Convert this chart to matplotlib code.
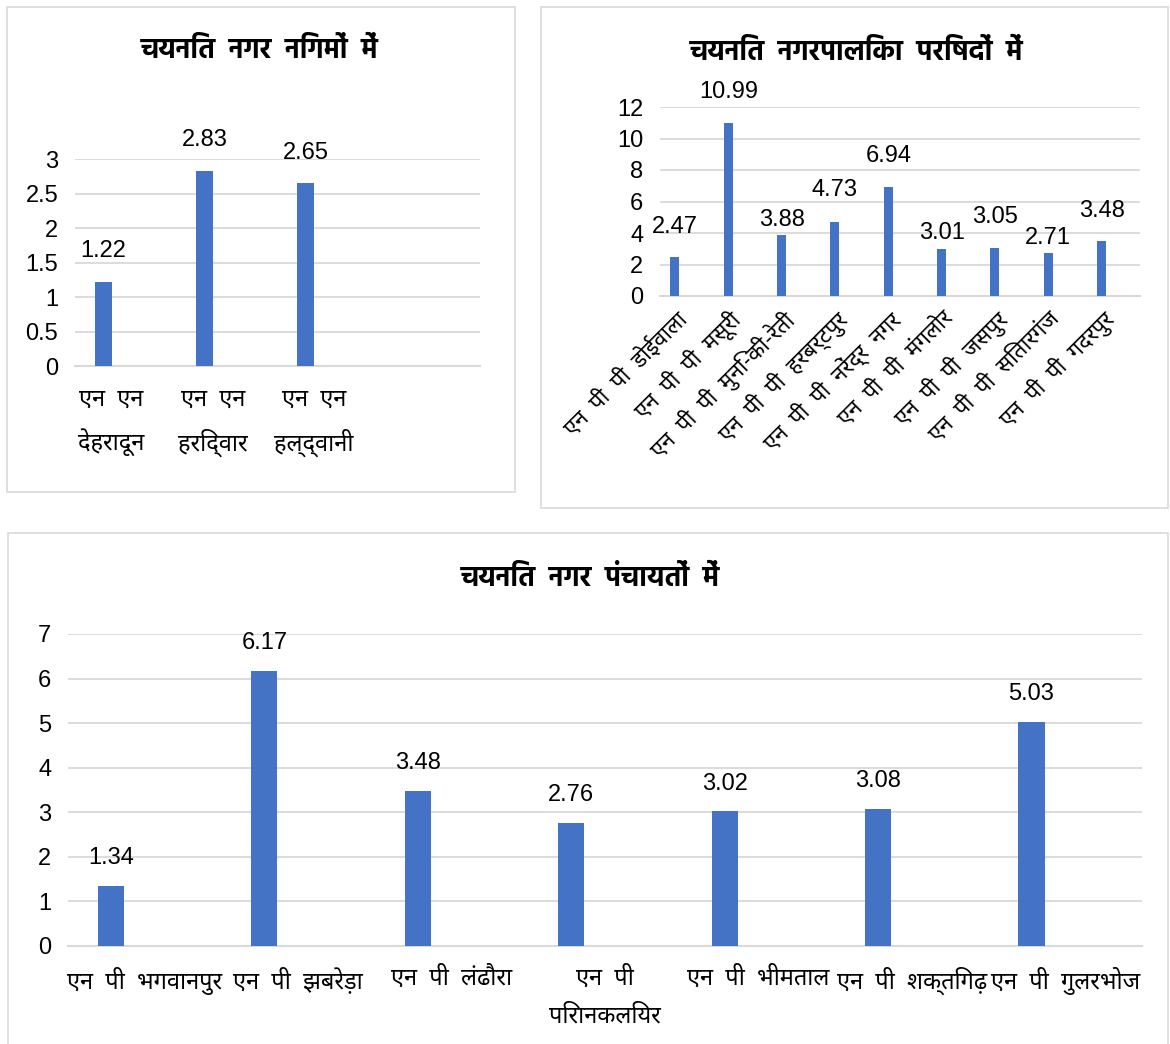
import matplotlib
matplotlib.use("Agg")
import matplotlib.pyplot as plt
from matplotlib import font_manager
from matplotlib.patches import Rectangle

# data
nigam_labels = ["एन  एन\nदेहरादून", "एन  एन\nहरिद्वार", "एन  एन\nहल्द्वानी"]
nigam_values = [1.22, 2.83, 2.65]
nigam_ticks = [0, 0.5, 1, 1.5, 2, 2.5, 3]

palika_labels = ["एन  पी  पी  डोईवाला", "एन  पी  पी  मसूरी", "एन  पी  पी  मुनि-की-रेती",
                 "एन  पी  पी  हरबर्टपुर", "एन  पी  पी  नरेंद्र  नगर", "एन  पी  पी  मंगलोर",
                 "एन  पी  पी  जसपुर", "एन  पी  पी  सितारगंज", "एन  पी  पी  गदरपुर"]
palika_values = [2.47, 10.99, 3.88, 4.73, 6.94, 3.01, 3.05, 2.71, 3.48]
palika_ticks = [0, 2, 4, 6, 8, 10, 12]

panchayat_labels = ["एन  पी  भगवानपुर", "एन  पी  झबरेड़ा", "एन  पी  लंढौरा", "एन  पी\nपिरानकलियर",
                    "एन  पी  भीमताल", "एन  पी  शक्तिगढ़", "एन  पी  गुलरभोज"]
panchayat_values = [1.34, 6.17, 3.48, 2.76, 3.02, 3.08, 5.03]
panchayat_ticks = [0, 1, 2, 3, 4, 5, 6, 7]

BLUE = "#4472C4"
GRID = "#d9d9d9"
W, H = 1170, 1044

installed = {f.name for f in font_manager.fontManager.ttflist}


def pick(names):
    return next((f for f in names if f in installed), "DejaVu Sans")


DEV = [pick(["Noto Sans Devanagari", "Mukta", "Hind", "FreeSans"]), "DejaVu Sans"]
DEV_BOLD = [pick(["Hind", "Mukta", "Noto Sans Devanagari", "FreeSans"]), "DejaVu Sans"]
NUM = ["Liberation Sans", "DejaVu Sans"]

fig = plt.figure(figsize=(W / 100, H / 100), dpi=100)


def px_rect(x0, y0, x1, y1):
    # pixel box (top-left origin) -> figure fraction [l, b, w, h]
    return [x0 / W, 1 - y1 / H, (x1 - x0) / W, (y1 - y0) / H]


def frame(x0, y0, x1, y1):
    l, b, w, h = px_rect(x0, y0, x1, y1)
    fig.add_artist(Rectangle((l, b), w, h, transform=fig.transFigure,
                             fill=False, edgecolor=GRID, lw=1.2))


def bar_panel(box, labels, values, ticks, nslots, title, title_xy,
              lab_offsets, tick_shift=0.0, rot=0, tick_pad=10, lab_size=17):
    ax = fig.add_axes(px_rect(*box))
    x = list(range(len(values)))
    ax.bar([i - 0.22 for i in x], values, width=0.17, color=BLUE, zorder=3)
    ax.set_xlim(-0.5, nslots - 0.5)
    ax.set_ylim(ticks[0], ticks[-1])
    ax.set_yticks(ticks)
    ax.set_yticklabels([f"{t:g}" for t in ticks], family=NUM, fontsize=17)
    ax.yaxis.grid(True, color=GRID, lw=1.3, zorder=0)
    for s in ["top", "right", "left"]:
        ax.spines[s].set_visible(False)
    ax.spines["bottom"].set_color(GRID)
    ax.spines["bottom"].set_linewidth(1.5)
    ax.tick_params(length=0)
    ax.tick_params(axis="y", pad=12)
    ax.set_xticks([i + tick_shift for i in x])
    if rot:
        ax.set_xticklabels(labels, family=DEV, fontsize=lab_size, rotation=rot,
                           ha="right", rotation_mode="anchor")
    else:
        ax.set_xticklabels(labels, family=DEV, fontsize=lab_size, linespacing=1.75)
    ax.tick_params(axis="x", pad=tick_pad)
    for i, v, off in zip(x, values, lab_offsets):
        ax.annotate(f"{v:.2f}", (i - 0.22, v), xytext=(0, off),
                    textcoords="offset points", ha="center", va="center",
                    family=NUM, fontsize=17, annotation_clip=False)
    fig.text(title_xy[0] / W, 1 - title_xy[1] / H, title, family=DEV_BOLD,
             fontsize=20, fontweight="bold", ha="center", va="center")
    return ax


frame(7, 7, 515, 492)
frame(541, 7, 1168, 508)
frame(8, 533, 1168, 1050)

bar_panel((75, 159, 480, 366), nigam_labels, nigam_values, nigam_ticks, 4,
          "चयनित  नगर  निगमों  में", (260, 50), [22] * 3,
          tick_shift=-0.14, tick_pad=16)

bar_panel((660, 107, 1140, 296), palika_labels, palika_values, palika_ticks, 9,
          "चयनित  नगरपालिका  परिषदों  में", (857, 52),
          [22, 22, 11, 23, 22, 11, 22, 11, 22], rot=45, tick_pad=8,
          tick_shift=-0.22, lab_size=16)

bar_panel((68, 634, 1142, 946), panchayat_labels, panchayat_values,
          panchayat_ticks, 7, "चयनित  नगर  पंचायतों  में", (590, 578), [20] * 7,
          tick_pad=15)

fig.savefig("out.png", dpi=100)
